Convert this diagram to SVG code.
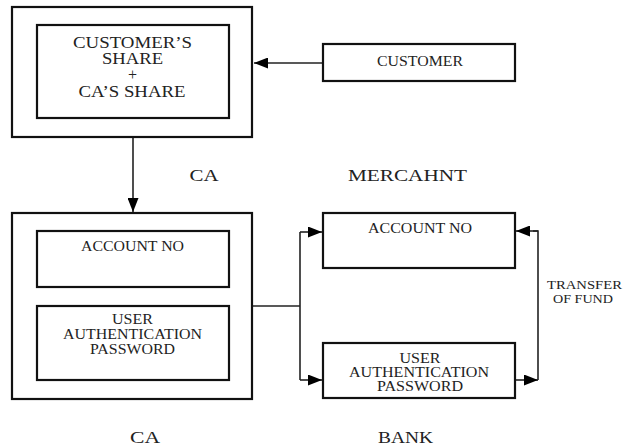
<svg xmlns="http://www.w3.org/2000/svg" width="626" height="445" viewBox="0 0 626 445">
<defs>
<marker id="arr" viewBox="0 0 14 11" refX="14" refY="5.5" markerWidth="14" markerHeight="11" markerUnits="userSpaceOnUse" orient="auto">
<path d="M0,0 L14,5.5 L0,11 z" fill="#000"/>
</marker>
<style>
.box{fill:#fff;stroke:#111;stroke-width:2.2}
.ln{fill:none;stroke:#222;stroke-width:1.6}
text{font-family:"Liberation Serif","DejaVu Serif","Noto Serif","Times New Roman",serif;fill:#222;text-anchor:middle}
.t{font-size:14px}
.s{font-size:12.5px}
.h{font-size:16px}
</style>
</defs>
<rect width="626" height="445" fill="#fff"/>

<g id="connectors">
<line class="ln" x1="323" y1="63" x2="254" y2="63" marker-end="url(#arr)"/>
<line class="ln" x1="133" y1="137" x2="133" y2="212" marker-end="url(#arr)"/>
<polyline class="ln" points="252,306 300,306"/>
<polyline class="ln" points="300,232 300,380"/>
<line class="ln" x1="300" y1="232" x2="322" y2="232" marker-end="url(#arr)"/>
<line class="ln" x1="300" y1="380" x2="322" y2="380" marker-end="url(#arr)"/>
<line class="ln" x1="515" y1="380" x2="538" y2="380" marker-end="url(#arr)"/>
<polyline class="ln" points="538,380 538,231 533,231"/>
<line class="ln" x1="538" y1="231" x2="516" y2="231" marker-end="url(#arr)"/>
</g>

<g id="ca-top">
<rect class="box" x="12" y="7" width="240" height="130"/>
<rect class="box" x="37" y="25" width="192" height="93"/>
<text class="h" x="132.5" y="48.3" textLength="119" lengthAdjust="spacingAndGlyphs">CUSTOMER’S</text>
<text class="h" x="132.5" y="64.3" textLength="61" lengthAdjust="spacingAndGlyphs">SHARE</text>
<text class="h" x="132.5" y="80">+</text>
<text class="h" x="132" y="96.7" textLength="107" lengthAdjust="spacingAndGlyphs">CA’S SHARE</text>
</g>

<g id="customer">
<rect class="box" x="323" y="44" width="192" height="37"/>
<text class="t" x="420" y="66" textLength="86" lengthAdjust="spacingAndGlyphs">CUSTOMER</text>
</g>

<g id="ca-bottom">
<rect class="box" x="12" y="213" width="240" height="186"/>
</g>
<g id="ca-account">
<rect class="box" x="37" y="231" width="192" height="56"/>
<text class="t" x="132.5" y="251" textLength="103" lengthAdjust="spacingAndGlyphs">ACCOUNT NO</text>
</g>
<g id="ca-auth">
<rect class="box" x="37" y="306" width="192" height="74"/>
<text class="t" x="132.5" y="324" textLength="41" lengthAdjust="spacingAndGlyphs">USER</text>
<text class="t" x="132.5" y="339" textLength="139" lengthAdjust="spacingAndGlyphs">AUTHENTICATION</text>
<text class="t" x="132.5" y="354" textLength="85" lengthAdjust="spacingAndGlyphs">PASSWORD</text>
</g>

<g id="bank-account">
<rect class="box" x="323" y="213" width="192" height="55"/>
<text class="t" x="420" y="233" textLength="104" lengthAdjust="spacingAndGlyphs">ACCOUNT NO</text>
</g>
<g id="bank-auth">
<rect class="box" x="323" y="343" width="192" height="55"/>
<text class="t" x="420" y="362.7" textLength="41" lengthAdjust="spacingAndGlyphs">USER</text>
<text class="t" x="419" y="376.5" textLength="140" lengthAdjust="spacingAndGlyphs">AUTHENTICATION</text>
<text class="t" x="420" y="390.5" textLength="86" lengthAdjust="spacingAndGlyphs">PASSWORD</text>
</g>

<g id="labels">
<text class="h" x="204" y="181" textLength="29" lengthAdjust="spacingAndGlyphs">CA</text>
<text class="h" x="407.5" y="181" textLength="119" lengthAdjust="spacingAndGlyphs">MERCAHNT</text>
<text class="s" x="584.5" y="289" textLength="75" lengthAdjust="spacingAndGlyphs">TRANSFER</text>
<text class="s" x="583" y="303" textLength="60" lengthAdjust="spacingAndGlyphs">OF FUND</text>
<text class="h" x="145" y="443" textLength="30" lengthAdjust="spacingAndGlyphs">CA</text>
<text class="h" x="405.5" y="443" textLength="55" lengthAdjust="spacingAndGlyphs">BANK</text>
</g>
</svg>
